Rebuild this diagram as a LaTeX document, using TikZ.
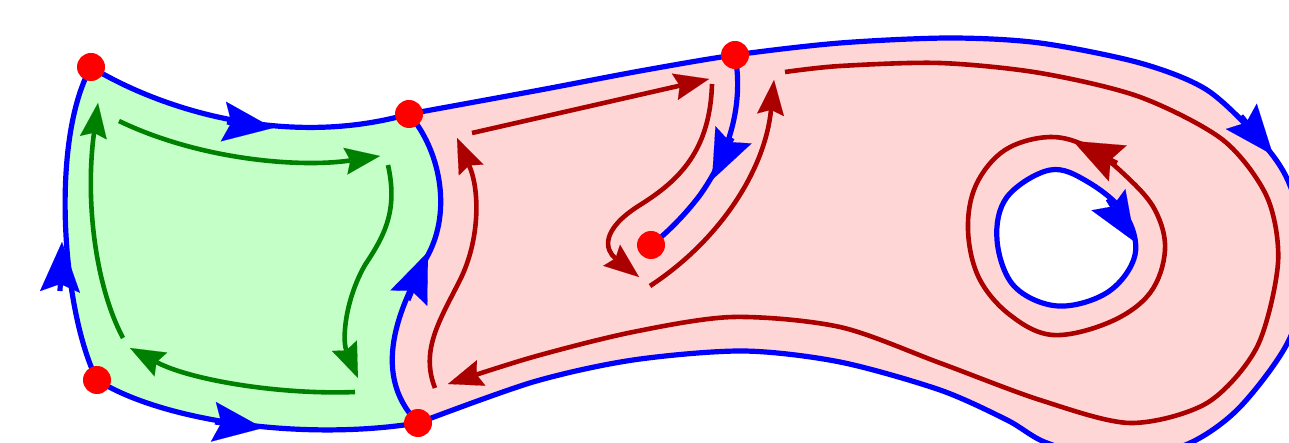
\documentclass[tikz,border=0pt]{standalone}
\usetikzlibrary{arrows.meta}
\definecolor{myblue}{RGB}{0,0,255}
\definecolor{mydred}{RGB}{170,0,0}
\definecolor{mygreen}{RGB}{0,128,0}
\definecolor{gfill}{RGB}{196,255,200}
\definecolor{pfill}{RGB}{255,214,214}
\definecolor{dotred}{RGB}{255,0,0}
\tikzset{
  SmallHead/.tip={Stealth[length=35pt,width=27pt,inset=5pt,line width=0.1pt]},
  BigHead/.tip={Stealth[length=50pt,width=40pt,inset=8pt,line width=0.1pt]},
  bline/.style={draw=myblue,line width=5.2pt},
  rline/.style={draw=mydred,line width=4.6pt},
  gline/.style={draw=mygreen,line width=4.6pt},
  barrow/.style={bline,-{BigHead}},
  rbig/.style={rline,-{BigHead}},
  rarrow/.style={rline,-{SmallHead}},
  garrow/.style={gline,-{SmallHead}},
  dot/.style={circle,fill=dotred,inner sep=0pt,minimum size=28pt},
}
\begin{document}
\begin{tikzpicture}[x=1pt,y=-1pt]
\useasboundingbox (0,0) rectangle (1289,443);
\coordinate (A) at (91,67);
\coordinate (B) at (409,114);
\coordinate (C) at (735,55);
\coordinate (D) at (97,380);
\coordinate (E) at (418,423);
\coordinate (F) at (651,245);
\coordinate (M) at (428,255);

% fills
\fill[gfill] (A) .. controls (165,112) and (290,148) .. (B)
  .. controls (440,150) and (452,210) .. (M)
  .. controls (405,298) and (366,370) .. (E)
  .. controls (300,442) and (160,420) .. (D)
  .. controls (62,310) and (50,140) .. (A) -- cycle;
\fill[pfill,even odd rule] (B) -- plot[smooth] coordinates {(409,114) (540,90) (640,71) (735,55) (840,43) (950,38) (1040,43) (1140,63) (1207,90) (1260,140) (1289,183) (1310,260) (1289,340) (1240,407) (1190,443) (1120,462) (1047,443) (1007,420) (940,390) (840,362) (743,351) (633,360) (533,382) (418,423)}
  .. controls (366,370) and (405,298) .. (M)
  .. controls (452,210) and (440,150) .. (B) -- cycle
  plot[smooth cycle,tension=0.6] coordinates {(1050,170) (1007,197) (997,240) (1014,286) (1058,306) (1108,292) (1135,255) (1125,214) (1088,182)};

% blue boundaries
\draw[bline] (A) .. controls (165,112) and (290,148) .. (B);
\draw[bline] (D) .. controls (62,310) and (50,140) .. (A);
\draw[bline] (D) .. controls (160,420) and (300,442) .. (E);
\draw[bline] (B) .. controls (440,150) and (452,210) .. (M) .. controls (405,298) and (366,370) .. (E);
\draw[bline] plot[smooth] coordinates {(409,114) (540,90) (640,71) (735,55) (840,43) (950,38) (1040,43) (1140,63) (1207,90) (1260,140) (1289,183) (1310,260) (1289,340) (1240,407) (1190,443) (1120,462) (1047,443) (1007,420) (940,390) (840,362) (743,351) (633,360) (533,382) (418,423)};
\draw[bline] plot[smooth cycle,tension=0.6] coordinates {(1050,170) (1007,197) (997,240) (1014,286) (1058,306) (1108,292) (1135,255) (1125,214) (1088,182)};
\draw[bline] (C) .. controls (745,110) and (725,160) .. (700,195) .. controls (685,215) and (665,235) .. (F);

% green arrows
\draw[garrow] (119,121) .. controls (200,160) and (300,168) .. (380,156);
\draw[garrow] (388,165) .. controls (398,210) and (385,235) .. (365,265) .. controls (345,300) and (342,340) .. (358,378);
\draw[garrow] (355,392) .. controls (280,395) and (190,380) .. (130,348);
\draw[garrow] (123,338) .. controls (95,285) and (85,200) .. (98,103);

% red arrows
\draw[rarrow] (472,133) -- (709,79);
\draw[rarrow] (712,84) .. controls (710,150) and (680,180) .. (640,205) .. controls (600,230) and (605,250) .. (639,277);
\draw[rarrow] (650,286) .. controls (720,240) and (765,170) .. (774,80);
\draw[rarrow] (435,388) .. controls (420,350) and (440,320) .. (460,280) .. controls (480,240) and (480,190) .. (457,138);
\draw[rarrow] plot[smooth] coordinates {(785,72) (840,66) (940,63) (1040,73) (1140,97) (1223,140) (1267,197) (1278,263) (1257,347) (1207,403) (1130,423) (1040,400) (940,363) (840,327) (733,317) (633,332) (533,357) (448,384)};
\draw[rline] plot[smooth cycle,tension=0.6] coordinates {(1050,137) (1005,150) (976,185) (968,230) (979,278) (1010,315) (1053,335) (1110,322) (1150,293) (1165,250) (1155,210) (1127,177) (1090,148)};
\draw[rbig] (1117,163) -- (1073,141);

% blue arrowheads
\draw[barrow] (227,122) -- (273,128);
\draw[barrow] (215,422) -- (263,428);
\draw[barrow] (60,291) -- (62,242);
\draw[barrow] (408,300) -- (428,252);
\draw[barrow] (732,138) -- (712,180);
\draw[barrow] (1241,116) -- (1273,155);
\draw[barrow] (1108,199) -- (1135,242);

% red dots
\node[dot] (dA) at (A) {};
\node[dot] (dB) at (B) {};
\node[dot] (dC) at (C) {};
\node[dot] (dD) at (D) {};
\node[dot] (dE) at (E) {};
\node[dot] (dF) at (F) {};
\end{tikzpicture}
\end{document}
